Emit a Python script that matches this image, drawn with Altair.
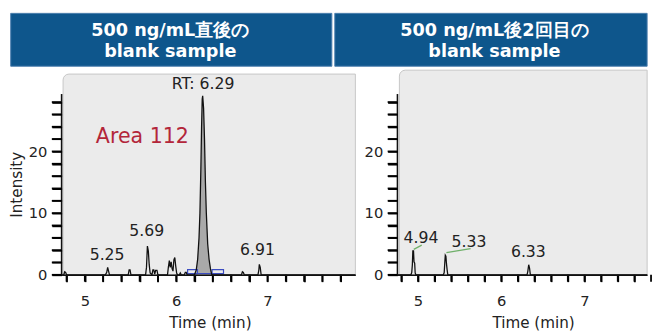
import altair as alt
import pandas as pd

# ---------------- data ----------------
left_time = [4.746, 4.77, 4.78, 4.79, 4.80, 5.225, 5.24, 5.25, 5.26, 5.27,
             5.475, 5.485, 5.495, 5.505, 5.665, 5.675, 5.685, 5.695, 5.705, 5.715,
             5.735, 5.745, 5.755, 5.765, 5.775, 5.79, 5.80, 5.905, 5.915, 5.925,
             5.935, 5.945, 5.955, 5.965, 5.975, 5.985, 5.995, 6.005, 6.015, 6.035,
             6.045, 6.055, 6.09, 6.10, 6.11, 6.12, 6.20, 6.22, 6.235, 6.25,
             6.26, 6.27, 6.278, 6.285, 6.29, 6.30, 6.31, 6.32, 6.33, 6.345,
             6.36, 6.375, 6.39, 6.715, 6.725, 6.735, 6.745, 6.895, 6.905, 6.91,
             6.92, 6.93, 7.961]
left_intensity = [0, 0, 0.5, 0.4, 0, 0, 0.4, 1.2, 0.6, 0,
                  0, 0.8, 0.8, 0, 0, 1.2, 4.65, 3.9, 1.6, 0.3,
                  0, 0.8, 0.8, 0.1, 0.7, 0.7, 0, 0, 1.3, 2.3,
                  1.2, 2.1, 1.0, 0.6, 2.4, 2.8, 1.4, 0.3, 0, 0,
                  0.3, 0, 0, 0.4, 0.4, 0, 0, 0.8, 2.5, 6.0,
                  10.0, 17.0, 24.0, 28.5, 29.0, 27.0, 22.0, 15.0, 10.0, 5.0,
                  2.5, 1.0, 0, 0, 0.5, 0.4, 0, 0, 0.8, 1.7,
                  1.2, 0, 0]

right_time = [4.753, 4.915, 4.925, 4.932, 4.938, 4.946, 4.952, 4.96, 4.966, 4.975,
              5.305, 5.315, 5.322, 5.328, 5.335, 5.342, 5.35, 5.358,
              6.31, 6.32, 6.33, 6.34, 6.35, 7.753]
right_intensity = [0, 0, 0.4, 1.6, 3.86, 3.86, 2.1, 1.9, 0.3, 0,
                   0, 0.4, 2.0, 3.17, 3.0, 1.8, 0.8, 0,
                   0, 0.6, 1.63, 1.1, 0, 0]

peak_fill_start = 6.20
peak_fill_end = 6.39

x_tick_values = [4.8, 5.0, 5.2, 5.4, 5.6, 5.8, 6.0, 6.2, 6.4, 6.6, 6.8, 7.0, 7.2, 7.4, 7.6, 7.8]
y_tick_values = [0, 2, 4, 6, 8, 10, 12, 14, 16, 18, 20, 22, 24, 26, 28]

left_labels = ["RT: 6.29", "5.25", "5.69", "6.91"]
left_label_time = [6.295, 5.244, 5.678, 6.89]
left_label_height = [30.05, 2.43, 6.24, 3.22]

area_labels = ["Area 112"]
area_label_time = [5.63]
area_label_height = [21.4]

integration_start = [6.125, 6.393]
integration_end = [6.233, 6.518]
integration_low = [0.2, 0.2]
integration_high = [0.85, 0.85]

right_labels = ["4.94", "5.33", "6.33"]
right_label_time = [5.035, 5.612, 6.326]
right_label_height = [5.19, 4.56, 2.81]

leader_time_start = [4.949, 5.341]
leader_height_start = [4.13, 3.6]
leader_time_end = [5.045, 5.632]
leader_height_end = [4.81, 4.24]

header_left = ["500 ng/mL直後の", "blank sample"]
header_right = ["500 ng/mL後2回目の", "blank sample"]

left_domain = [4.746, 7.961]
right_domain = [4.753, 7.753]
y_domain = [0, 33.17]
y_axis_top = 29.3

# ---------------- styling ----------------
FONT = "DejaVu Sans"
TXT = "#222222"
HEADER_BLUE = "#0e568c"
PANEL_H = 209
X_TICK = 7
Y_TICK = 10


def build_panel(times, values, domain, width, label_txt, label_t, label_y,
                header_lines, header_x0, header_x1, header_cx, bg_x0, bg_y0, title_x,
                y_title, extra=None):
    xs = alt.Scale(domain=domain, nice=False, zero=False)
    ys = alt.Scale(domain=y_domain, nice=False, zero=False)
    one = pd.DataFrame({"k": [0]})

    y_axis = alt.Axis(values=y_tick_values,
                      labelExpr="datum.value % 10 == 0 ? datum.label : ''",
                      domain=False, grid=False, ticks=True, tickSize=Y_TICK,
                      tickColor="#000000", tickWidth=1.8, tickOpacity=1,
                      labelFont=FONT, labelFontSize=15, labelColor=TXT,
                      labelPadding=5, labelOverlap=False,
                      title=y_title,
                      titleX=-45.5, titleY=116.5, titleAngle=270, titleAlign="center",
                      titleBaseline="middle", titleFont=FONT, titleFontSize=15.5,
                      titleFontWeight="normal", titleColor=TXT, zindex=3)
    x_axis = alt.Axis(values=x_tick_values,
                      labelExpr="datum.value % 1 == 0 ? format(datum.value, 'd') : ''",
                      domain=True, domainColor="#111111", domainWidth=1.6, grid=False,
                      ticks=True, tickSize=X_TICK, tickColor="#000000", tickWidth=1.8,
                      tickOpacity=1, labelFont=FONT,
                      labelFontSize=15, labelColor=TXT, labelPadding=12,
                      labelFlush=False,
                      labelOverlap=False, title="Time (min)", titleX=title_x, titleY=54,
                      titleBaseline="alphabetic", titleAlign="center", titleFont=FONT,
                      titleFontSize=15.5, titleFontWeight="normal", titleColor=TXT, zindex=3)

    def X(field):
        return alt.X(field, scale=xs, axis=x_axis)

    def Y(field):
        return alt.Y(field, scale=ys, axis=y_axis)

    bg = alt.Chart(one).mark_rect(fill="#ebebeb", stroke="#c6c6c6", strokeWidth=1,
                                  cornerRadiusTopLeft=6, clip=False).encode(
        x=alt.value(bg_x0), x2=alt.value(width), y=alt.value(bg_y0), y2=alt.value(PANEL_H))

    head = alt.Chart(one).mark_rect(fill=HEADER_BLUE, stroke="#4d7fae", strokeWidth=1,
                                    clip=False).encode(
        x=alt.value(header_x0), x2=alt.value(header_x1), y=alt.value(-58), y2=alt.value(-4))
    h1 = alt.Chart(one).mark_text(font=FONT, fontSize=18, fontWeight="bold", color="white",
                                  align="center", baseline="alphabetic", clip=False,
                                  text=header_lines[0]).encode(
        x=alt.value(header_cx), y=alt.value(-35))
    h2 = alt.Chart(one).mark_text(font=FONT, fontSize=18, fontWeight="bold", color="white",
                                  align="center", baseline="alphabetic", clip=False,
                                  text=header_lines[1]).encode(
        x=alt.value(header_cx), y=alt.value(-13.5))

    # explicit tick marks drawn as short rules at the tick values
    xt = alt.Chart(pd.DataFrame({"t": x_tick_values})).mark_rule(
        color="#000000", strokeWidth=1.8, clip=False).encode(
        x=X("t:Q"), y=alt.value(PANEL_H), y2=alt.value(PANEL_H + X_TICK))
    yt = alt.Chart(pd.DataFrame({"y": y_tick_values})).mark_rule(
        color="#000000", strokeWidth=1.8, clip=False).encode(
        y=Y("y:Q"), x=alt.value(-Y_TICK), x2=alt.value(0))

    trace = pd.DataFrame({"t": times, "y": values})

    line = alt.Chart(trace).mark_line(color="#111111", strokeWidth=1.3, clip=False).encode(
        x=X("t:Q"), y=Y("y:Q"))

    yline = alt.Chart(pd.DataFrame({"y": [0], "y1": [y_axis_top]})).mark_rule(
        color="#111111", strokeWidth=1.6, clip=False).encode(
        x=alt.value(0), y=Y("y:Q"), y2="y1:Q")

    labels = alt.Chart(pd.DataFrame({"t": label_t, "y": label_y, "label": label_txt})).mark_text(
        font=FONT, fontSize=16, color=TXT, align="center", baseline="alphabetic",
        clip=False).encode(
        x=X("t:Q"), y=Y("y:Q"), text="label:N")

    layers = [bg, head, h1, h2]
    if extra is not None:
        layers += extra(trace, X, Y)
    layers += [line, xt, yt, yline, labels]
    return alt.layer(*layers).properties(width=width, height=PANEL_H)


def left_extra(trace, X, Y):
    fill_df = trace[(trace.t >= peak_fill_start) & (trace.t <= peak_fill_end)]
    area = alt.Chart(fill_df).mark_area(color="#a9a9a9", opacity=1).encode(
        x=X("t:Q"), y=Y("y:Q"))
    integ = pd.DataFrame({"t": integration_start, "t1": integration_end,
                          "y": integration_low, "y1": integration_high})
    boxes = alt.Chart(integ).mark_rect(fillOpacity=0, stroke="#3b4cc0", strokeWidth=1.2).encode(
        x=X("t:Q"), x2="t1:Q", y=Y("y:Q"), y2="y1:Q")
    base = alt.Chart(pd.DataFrame({"t": [integration_start[0]], "t1": [integration_end[1]],
                                   "y": [integration_low[0]]})).mark_rule(
        color="#3b4cc0", strokeWidth=1.2).encode(
        x=X("t:Q"), x2="t1:Q", y=Y("y:Q"))
    area_txt = alt.Chart(pd.DataFrame({"t": area_label_time, "y": area_label_height,
                                       "label": area_labels})).mark_text(
        font=FONT, fontSize=21, color="#b3263a", align="center", baseline="alphabetic").encode(
        x=X("t:Q"), y=Y("y:Q"), text="label:N")
    return [area, boxes, base, area_txt]


def right_extra(trace, X, Y):
    lead = pd.DataFrame({"t": leader_time_start, "y": leader_height_start,
                         "t1": leader_time_end, "y1": leader_height_end})
    leaders = alt.Chart(lead).mark_rule(color="#6fb06a", strokeWidth=1.3).encode(
        x=X("t:Q"), x2="t1:Q", y=Y("y:Q"), y2="y1:Q")
    return [leaders]


left = build_panel(left_time, left_intensity, left_domain, 300, left_labels, left_label_time,
                   left_label_height, header_left, -52, 276, 111, 1.5, 4, 151.5,
                   "Intensity", left_extra)
right = build_panel(right_time, right_intensity, right_domain, 255, right_labels,
                    right_label_time, right_label_height, header_right, -64, 255, 99, 2, 0,
                    138.5, "", right_extra)

chart = alt.hconcat(left, right, spacing=43, bounds="flush").properties(
    padding={"left": 1.75, "top": 1, "right": 0, "bottom": 0},
    background="white",
).configure_view(stroke="transparent")

chart.save("out.html", embed_options={"renderer": "svg", "actions": False})
